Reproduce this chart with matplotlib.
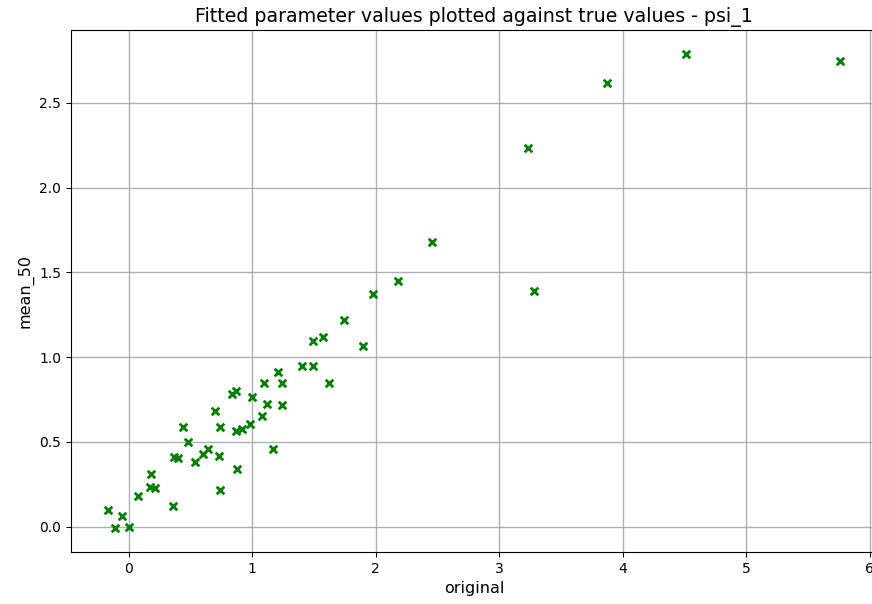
"""
  Fitted vs true parameter values for psi_1
"""
import matplotlib
matplotlib.use('Agg')
import matplotlib.pyplot as plt
import numpy as np

# true values
original = [-0.17, -0.11, -0.05, 0.0, 0.08, 0.18, 0.17, 0.21, 0.36, 0.365,
            0.40, 0.44, 0.48, 0.54, 0.60, 0.64, 0.70, 0.73, 0.74, 0.74,
            0.84, 0.87, 0.87, 0.88, 0.92, 0.98, 1.0, 1.08, 1.10, 1.12,
            1.17, 1.21, 1.24, 1.24, 1.40, 1.49, 1.49, 1.57, 1.62, 1.74,
            1.90, 1.98, 2.18, 2.46, 3.23, 3.28, 3.87, 4.51, 5.76]
# fitted values
mean_50 = [0.10, -0.01, 0.065, 0.0, 0.18, 0.31, 0.235, 0.23, 0.12, 0.41,
           0.405, 0.585, 0.50, 0.38, 0.43, 0.46, 0.68, 0.415, 0.585, 0.215,
           0.785, 0.80, 0.565, 0.34, 0.575, 0.605, 0.765, 0.65, 0.85, 0.725,
           0.46, 0.915, 0.85, 0.715, 0.945, 1.095, 0.95, 1.12, 0.85, 1.22,
           1.065, 1.37, 1.45, 1.68, 2.235, 1.39, 2.62, 2.79, 2.75]

fig = plt.figure(figsize=(8.72, 6.04), dpi=100)
# right spine sits just past the picture edge, as in the cropped original
ax = fig.add_axes([0.0814, 0.0861, 0.924, 0.8642])

ax.scatter(original, mean_50, marker='x', c='green', s=30, linewidths=2, zorder=3)
ax.grid(True, color='#b0b0b0', linewidth=1.0)
ax.set_axisbelow(True)

ax.set_title('Fitted parameter values plotted against true values - psi_1', fontsize=13.7)
ax.set_xlabel('original', fontsize=11.5)
ax.set_ylabel('mean_50', fontsize=11.5)

plt.savefig('out.png', dpi=100)
